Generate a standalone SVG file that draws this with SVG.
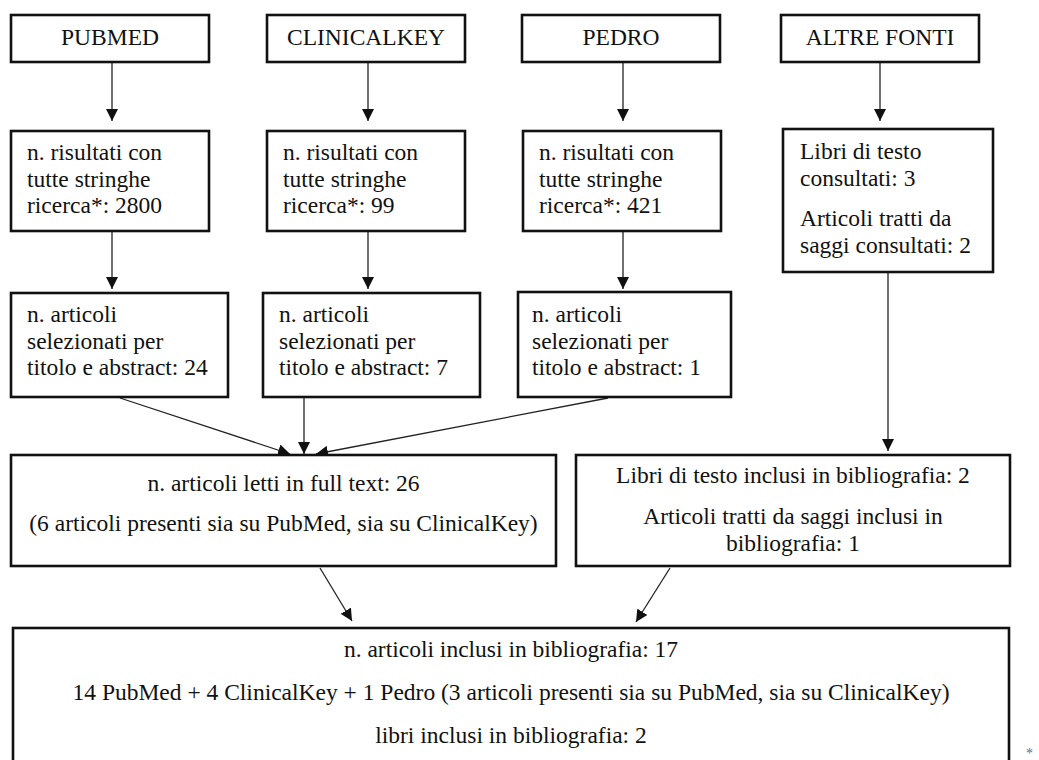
<svg xmlns="http://www.w3.org/2000/svg" width="1039" height="760" viewBox="0 0 1039 760">
<style>
.box{fill:#fff;stroke:#111;stroke-width:2.6}
.t{font-family:"Liberation Serif","Times New Roman",serif;font-size:23.5px;fill:#111}
.c{text-anchor:middle}
.ln{stroke:#222;stroke-width:1.3;fill:none;marker-end:url(#ah)}
</style>
<defs>
<marker id="ah" markerUnits="userSpaceOnUse" markerWidth="12" markerHeight="12" viewBox="0 0 10 10" refX="10" refY="5" orient="auto"><path d="M0,0L10,5L0,10z" fill="#111"/></marker>
</defs>
<rect width="1039" height="760" fill="#fff"/>
<g id="connectors">
<path class="ln" d="M112,63V121"/>
<path class="ln" d="M368,63V121"/>
<path class="ln" d="M623,63V121"/>
<path class="ln" d="M880,63V121"/>
<path class="ln" d="M112,232V289"/>
<path class="ln" d="M368,232V289"/>
<path class="ln" d="M623,232V289"/>
<path class="ln" d="M888,273V451"/>
<path class="ln" d="M120,398L290,454"/>
<path class="ln" d="M304,398V454"/>
<path class="ln" d="M608,398L316,454"/>
<path class="ln" d="M320,568L352,621"/>
<path class="ln" d="M670,568L636,622"/>
</g>
<g id="n-pubmed"><rect class="box" x="11" y="15" width="198" height="47"/><text class="t c" x="110" y="45">PUBMED</text></g>
<g id="n-clinicalkey"><rect class="box" x="267" y="15" width="198" height="47"/><text class="t c" x="366" y="45">CLINICALKEY</text></g>
<g id="n-pedro"><rect class="box" x="522" y="15" width="198" height="47"/><text class="t c" x="621" y="45">PEDRO</text></g>
<g id="n-altre"><rect class="box" x="781" y="15" width="198" height="47"/><text class="t c" x="880" y="45">ALTRE FONTI</text></g>

<g id="n-pubmed-res"><rect class="box" x="11" y="131" width="198" height="100"/>
<text class="t" x="27" y="160">n. risultati con</text><text class="t" x="27" y="186.5">tutte stringhe</text><text class="t" x="27" y="213">ricerca*: 2800</text></g>
<g id="n-ck-res"><rect class="box" x="267" y="131" width="198" height="100"/>
<text class="t" x="283" y="160">n. risultati con</text><text class="t" x="283" y="186.5">tutte stringhe</text><text class="t" x="283" y="213">ricerca*: 99</text></g>
<g id="n-pedro-res"><rect class="box" x="523" y="131" width="198" height="100"/>
<text class="t" x="539" y="160">n. risultati con</text><text class="t" x="539" y="186.5">tutte stringhe</text><text class="t" x="539" y="213">ricerca*: 421</text></g>
<g id="n-altre-res"><rect class="box" x="783" y="129" width="210" height="143"/>
<text class="t" x="800" y="159">Libri di testo</text><text class="t" x="800" y="185.5">consultati: 3</text><text class="t" x="800" y="226">Articoli tratti da</text><text class="t" x="800" y="252.5">saggi consultati: 2</text></g>

<g id="n-pubmed-sel"><rect class="box" x="11" y="293" width="217" height="104"/>
<text class="t" x="27" y="322">n. articoli</text><text class="t" x="27" y="348.5">selezionati per</text><text class="t" x="27" y="375">titolo e abstract: 24</text></g>
<g id="n-ck-sel"><rect class="box" x="263" y="293" width="217" height="104"/>
<text class="t" x="279" y="322">n. articoli</text><text class="t" x="279" y="348.5">selezionati per</text><text class="t" x="279" y="375">titolo e abstract: 7</text></g>
<g id="n-pedro-sel"><rect class="box" x="518" y="292" width="213" height="105"/>
<text class="t" x="532" y="322">n. articoli</text><text class="t" x="532" y="348.5">selezionati per</text><text class="t" x="532" y="375">titolo e abstract: 1</text></g>

<g id="n-fulltext"><rect class="box" x="11" y="455" width="545" height="111"/>
<text class="t c" x="283.5" y="491">n. articoli letti in full text: 26</text>
<text class="t c" x="283.5" y="531">(6 articoli presenti sia su PubMed, sia su ClinicalKey)</text></g>
<g id="n-altre-incl"><rect class="box" x="576" y="455" width="434" height="111"/>
<text class="t c" x="793" y="483">Libri di testo inclusi in bibliografia: 2</text>
<text class="t c" x="793" y="524">Articoli tratti da saggi inclusi in</text>
<text class="t c" x="793" y="550.5">bibliografia: 1</text></g>

<g id="n-final"><rect class="box" x="13" y="628" width="996" height="145"/>
<text class="t c" x="511" y="657">n. articoli inclusi in bibliografia: 17</text>
<text class="t c" x="511" y="700">14 PubMed + 4 ClinicalKey + 1 Pedro (3 articoli presenti sia su PubMed, sia su ClinicalKey)</text>
<text class="t c" x="511" y="743">libri inclusi in bibliografia: 2</text></g>

<text id="footnote-mark" x="1026" y="758" style="font-family:'Liberation Serif',serif;font-size:14px;fill:#5a6a8a">*</text>
</svg>
